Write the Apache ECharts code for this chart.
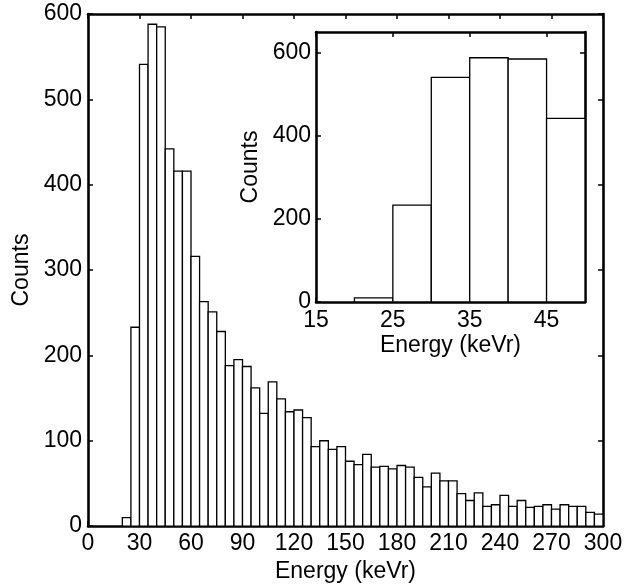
<!DOCTYPE html>
<html>
<head>
<meta charset="utf-8">
<script src="https://cdn.jsdelivr.net/npm/echarts@6/dist/echarts.min.js"></script>
<style>html,body{margin:0;padding:0;background:#fff}#c{width:638px;height:588px}</style>
</head>
<body>
<div id="c"></div>
<script>
// Histogram bins (keVr), left and right edges, 5 keVr wide
const binLeft = [20,25,30,35,40,45,50,55,60,65,70,75,80,85,90,95,100,105,110,115,120,125,130,135,140,145,150,155,160,165,170,175,180,185,190,195,200,205,210,215,220,225,230,235,240,245,250,255,260,265,270,275,280,285,290,295];
const binRight = [25,30,35,40,45,50,55,60,65,70,75,80,85,90,95,100,105,110,115,120,125,130,135,140,145,150,155,160,165,170,175,180,185,190,195,200,205,210,215,220,225,230,235,240,245,250,255,260,265,270,275,280,285,290,295,300];
const counts = [10,233,541,588,585,442,416,416,316,263,251,228,188,195,187,162,132,169,149,134,136,127,93,100,90,93,76,72,84,69,70,67,71,69,57,46,62,53,53,38,30,39,23,25,36,23,30,22,23,25,20,25,23,23,16,14];

const mainXTicks = [0,30,60,90,120,150,180,210,240,270,300];
const mainYTicks = [0,100,200,300,400,500,600];
const insetXTicks = [15,25,35,45];
const insetYTicks = [0,200,400,600];
const insetRange = [15,50];

const font = "'Liberation Sans', Arial, Helvetica, sans-serif";
const FS = 23;
const mainData = binLeft.map((l,i)=>[l, binRight[i], counts[i]]);
const insetData = mainData.filter(d => d[0] >= insetRange[0] && d[1] <= insetRange[1]);

function renderBar(params, api){
  const p0 = api.coord([api.value(0), api.value(2)]);
  const p1 = api.coord([api.value(1), 0]);
  return {type:'rect', shape:{x:p0[0], y:p0[1], width:p1[0]-p0[0], height:p1[1]-p0[1]},
    style:{fill:'#fff', stroke:'#000', lineWidth:1.3}};
}

const lineStyle = {color:'#000', width:2.6};
const tickStyle = {show:true, inside:true, length:5, lineStyle:{color:'#000', width:1.5}};
const labelStyle = {color:'#000', fontSize:FS, fontFamily:font};
const nameStyle = {color:'#000', fontSize:FS, fontFamily:font};

function ax(grid, min, max, ticks, pos, showLabel, margin, name, gap){
  return {type:'value', gridIndex:grid, position:pos, min:min, max:max,
    axisLine:{show:true, onZero:false, lineStyle:lineStyle},
    axisTick:Object.assign({customValues:ticks}, tickStyle),
    axisLabel:Object.assign({show:showLabel, customValues:ticks, margin:margin||6}, labelStyle),
    splitLine:{show:false},
    name: name||'', nameLocation:'middle', nameGap:gap||0, nameTextStyle:nameStyle};
}

const chart = echarts.init(document.getElementById('c'), null, {renderer:'canvas'});
chart.setOption({
  backgroundColor:'#fff',
  animation:false,
  grid:[
    {left:88, top:14, right:35, bottom:60, show:false},
    {left:316, top:32, right:53, bottom:286, show:true, backgroundColor:'#fff', borderWidth:0}
  ],
  xAxis:[
    ax(0, 0, 300, mainXTicks, 'bottom', true, 6, 'Energy (keVr)', 32),
    ax(0, 0, 300, mainXTicks, 'top', false),
    ax(1, insetRange[0], insetRange[1], insetXTicks, 'bottom', true, 7, 'Energy (keVr)', 32),
    ax(1, insetRange[0], insetRange[1], insetXTicks, 'top', false)
  ],
  yAxis:[
    ax(0, 0, 600, mainYTicks, 'left', true, 6, 'Counts', 53),
    ax(0, 0, 600, mainYTicks, 'right', false),
    ax(1, 0, 650, insetYTicks, 'left', true, 5, 'Counts', 54),
    ax(1, 0, 650, insetYTicks, 'right', false)
  ],
  series:[
    {type:'custom', xAxisIndex:0, yAxisIndex:0, renderItem:renderBar, data:mainData, encode:{x:[0,1], y:2}, z:1},
    {type:'custom', xAxisIndex:2, yAxisIndex:2, renderItem:renderBar, data:insetData, encode:{x:[0,1], y:2}, z:1}
  ]
});
</script>
</body>
</html>
